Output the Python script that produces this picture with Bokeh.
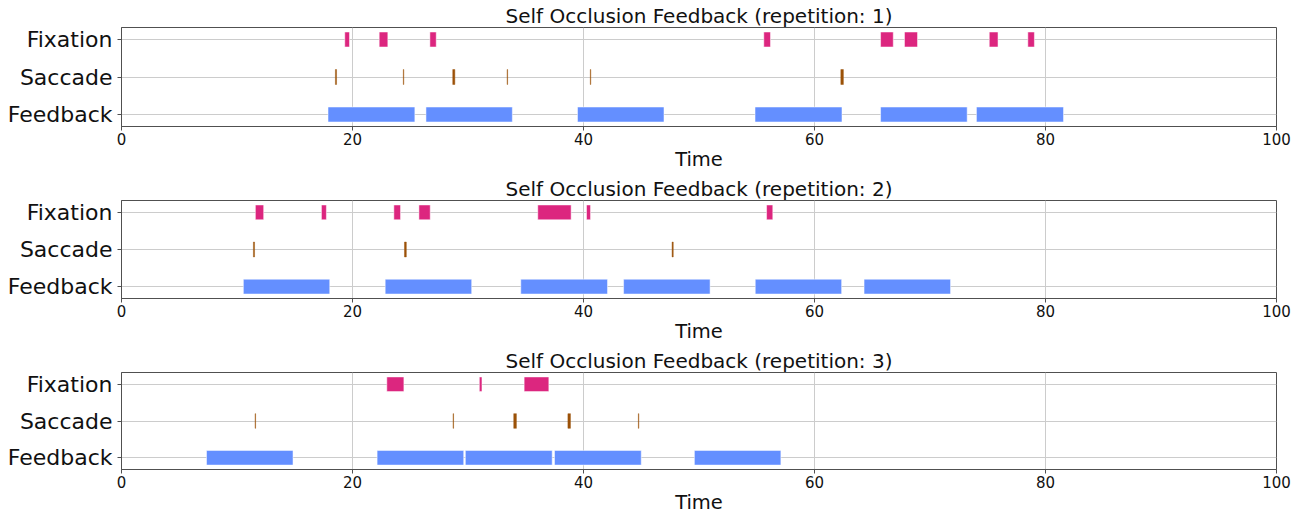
from bokeh.plotting import figure
from bokeh.layouts import column
from bokeh.models import FixedTicker
from bokeh.embed import file_html
from bokeh.resources import INLINE

# ---------------- data ----------------
categories = ["Feedback", "Saccade", "Fixation"]
x_ticks = [0, 20, 40, 60, 80, 100]
titles = ["Self Occlusion Feedback (repetition: 1)",
          "Self Occlusion Feedback (repetition: 2)",
          "Self Occlusion Feedback (repetition: 3)"]

# repetition 1
rep1_fix_start = [19.33, 22.31, 26.70, 55.61, 65.72, 67.79, 75.13, 78.47]
rep1_fix_end = [19.74, 23.06, 27.25, 56.19, 66.82, 68.92, 75.89, 79.04]
rep1_sac_start = [18.52, 24.40, 28.68, 33.39, 40.59, 62.28]
rep1_sac_end = [18.62, 24.44, 28.86, 33.43, 40.63, 62.50]
rep1_fb_start = [17.88, 26.36, 39.48, 54.85, 65.72, 74.02]
rep1_fb_end = [25.40, 33.84, 46.97, 62.38, 73.22, 81.56]

# repetition 2
rep2_fix_start = [11.59, 17.31, 23.58, 25.75, 36.04, 40.26, 55.85]
rep2_fix_end = [12.31, 17.74, 24.16, 26.73, 38.93, 40.61, 56.39]
rep2_sac_start = [11.42, 24.50, 47.67]
rep2_sac_end = [11.52, 24.66, 47.77]
rep2_fb_start = [10.55, 22.83, 34.57, 43.47, 54.87, 64.29]
rep2_fb_end = [18.03, 30.32, 42.08, 50.96, 62.35, 71.78]

# repetition 3
rep3_fix_start = [22.97, 30.98, 34.86]
rep3_fix_end = [24.45, 31.21, 37.00]
rep3_sac_start = [11.57, 28.71, 33.96, 38.65, 44.75]
rep3_sac_end = [11.61, 28.75, 34.19, 38.87, 44.79]
rep3_fb_start = [7.36, 22.13, 29.77, 37.49, 49.60]
rep3_fb_end = [14.85, 29.63, 37.29, 45.00, 57.09]

reps = [
    (rep1_fix_start, rep1_fix_end, rep1_sac_start, rep1_sac_end, rep1_fb_start, rep1_fb_end),
    (rep2_fix_start, rep2_fix_end, rep2_sac_start, rep2_sac_end, rep2_fb_start, rep2_fb_end),
    (rep3_fix_start, rep3_fix_end, rep3_sac_start, rep3_sac_end, rep3_fb_start, rep3_fb_end),
]

# ---------------- styling ----------------
FONT = "DejaVu Sans"
FIX_COLOR = "#DC267F"
SAC_COLOR = "#9C5208"
FB_COLOR = "#648FFF"
GRID = "#cccccc"
SPINE = "#505050"
frame_heights = [99, 98, 97]

figs = []
for i, (title, rep) in enumerate(zip(titles, reps)):
    fs, fe, ss, se, bs, be = rep
    p = figure(frame_width=1155, frame_height=frame_heights[i],
               x_range=(0, 100), y_range=(-0.32, 2.32),
               output_backend="svg", toolbar_location=None,
               min_border_left=121, min_border_right=20,
               min_border_top=27, min_border_bottom=0,
               title=title)
    p.title.text_font = FONT
    p.title.text_font_size = "20px"
    p.title.text_font_style = "normal"
    p.title.text_color = "#111111"
    p.title.align = "center"
    p.title.standoff = 0

    p.hbar(y=[categories.index("Feedback")] * len(bs), left=bs, right=be, height=0.4,
           fill_color=FB_COLOR, line_color="white", line_alpha=0.5, line_width=1)
    p.hbar(y=[categories.index("Saccade")] * len(ss), left=ss, right=se, height=0.4,
           fill_color=SAC_COLOR, line_color=SAC_COLOR, line_alpha=0.45, line_width=1)
    p.hbar(y=[categories.index("Fixation")] * len(fs), left=fs, right=fe, height=0.4,
           fill_color=FIX_COLOR, line_color="white", line_alpha=0.5, line_width=1)

    p.xaxis.ticker = FixedTicker(ticks=x_ticks, minor_ticks=[])
    p.yaxis.ticker = FixedTicker(ticks=[0, 1, 2], minor_ticks=[])
    p.yaxis.major_label_overrides = {k: c for k, c in enumerate(categories)}
    p.xaxis.axis_label = "Time"
    for ax in (p.xaxis, p.yaxis):
        ax.major_label_text_font = FONT
        ax.axis_label_text_font = FONT
        ax.axis_label_text_font_style = "normal"
        ax.axis_line_color = SPINE
        ax.major_tick_line_color = SPINE
        ax.major_tick_out = 4
        ax.major_tick_in = 0
        ax.major_label_text_color = "#111111"
        ax.axis_label_text_color = "#111111"
        ax.major_label_text_line_height = 1.0
        ax.axis_label_text_line_height = 1.0
    p.xaxis.major_label_standoff = 2
    p.yaxis.major_label_standoff = 5
    p.xaxis.major_label_text_font_size = "15px"
    p.xaxis.axis_label_text_font_size = "19.5px"
    p.xaxis.axis_label_standoff = 0
    p.yaxis.major_label_text_font_size = "22px"

    p.xgrid.grid_line_color = GRID
    p.ygrid.grid_line_color = GRID
    p.outline_line_color = SPINE
    p.outline_line_alpha = 1
    p.background_fill_color = "white"
    p.border_fill_color = "white"
    figs.append(p)

layout = column(*figs, spacing=0)
open("out.html", "w").write(file_html(layout, INLINE))
